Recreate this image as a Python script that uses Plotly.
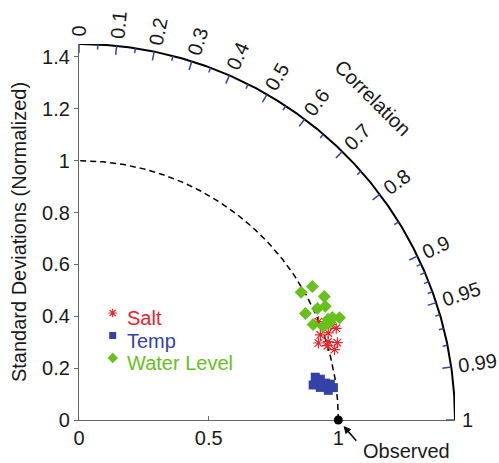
import numpy as np
import plotly.graph_objects as go

# Normalized standard deviation and correlation of each model run against observations
salt_std = [0.998, 0.987, 1.018, 1.007, 1.053, 1.040, 1.022, 0.970, 1.000, 1.037]
salt_corr = [0.925, 0.943, 0.944, 0.954, 0.942, 0.958, 0.964, 0.952, 0.958, 0.935]

temp_std = [0.926, 0.913, 0.944, 0.961, 0.979, 0.968, 0.939, 0.989]
temp_corr = [0.984, 0.989, 0.986, 0.989, 0.990, 0.993, 0.991, 0.992]

wl_std = [0.988, 1.037, 1.059, 1.046, 0.965, 1.015, 0.975, 1.036, 1.039, 1.079, 1.008, 1.054]
wl_corr = [0.867, 0.868, 0.893, 0.908, 0.905, 0.906, 0.926, 0.927, 0.932, 0.931, 0.934, 0.927]

series_names = ["Salt", "Temp", "Water Level"]
series_colors = ["#e3262b", "#3442a8", "#66c11c"]
series_symbols = ["asterisk-open", "square", "diamond"]
series_sizes = [9, 9, 10]
legend_sizes = [7, 7, 8]

std_ticks = [0, 0.2, 0.4, 0.6, 0.8, 1.0, 1.2, 1.4]
std_ticktext = ["0", "0.2", "0.4", "0.6", "0.8", "1", "1.2", "1.4"]
ref_ticks = [0, 0.5, 1.0]
ref_ticktext = ["0", "0.5", "1"]

corr_major = [0, 0.1, 0.2, 0.3, 0.4, 0.5, 0.6, 0.7, 0.8, 0.9, 0.95, 0.99, 1.0]
corr_major_text = ["0", "0.1", "0.2", "0.3", "0.4", "0.5", "0.6", "0.7", "0.8",
                   "0.9", "0.95", "0.99", "1"]
corr_minor = [0.05, 0.15, 0.25, 0.35, 0.45, 0.55, 0.65, 0.75, 0.85,
              0.91, 0.92, 0.93, 0.94, 0.96, 0.97, 0.98]

RMAX = 1.45          # outer radius of the diagram
OBS_STD = 1.0        # reference (observed) standard deviation

W, H = 499, 463
ML, MR, MT, MB = 79, 44, 44, 43
PX = (W - ML - MR) / RMAX   # pixels per data unit

FONT = "Liberation Sans, Arial, Helvetica, sans-serif"
TXT = "#1a1a1a"
TICK_BLUE = "#3344aa"

# legend block placement (pixels from the top-left of the figure)
LEG_SYMBOL_X = 112.7
LEG_TEXT_X = 125
LEG_ROW_Y = [318, 340.5, 363]
LEG_SYMBOL_LIFT = 5


def to_xy(std, corr):
    std = np.asarray(std, float)
    corr = np.asarray(corr, float)
    th = np.arccos(corr)
    return std * np.cos(th), std * np.sin(th)


def paper(v):
    # data units -> paper fraction (plot area is square, both axes span [0, RMAX])
    return v / RMAX


def px_x(p):
    return (p - ML) / PX


def px_y(p):
    return (H - MB - p) / PX


fig = go.Figure()

# outer arc
th = np.linspace(0, np.pi / 2, 300)
fig.add_trace(go.Scatter(x=RMAX * np.cos(th), y=RMAX * np.sin(th), mode="lines",
                         line=dict(color="black", width=2), hoverinfo="skip",
                         showlegend=False, cliponaxis=False))

# reference std arc (dashed)
fig.add_trace(go.Scatter(x=OBS_STD * np.cos(th), y=OBS_STD * np.sin(th), mode="lines",
                         line=dict(color="black", width=1.5, dash="6px,4px"),
                         hoverinfo="skip", showlegend=False))


# correlation ticks on the outer arc, pointing inward
def tick_segments(values, length_px):
    xs, ys = [], []
    for c in values:
        a = np.arccos(c)
        r0, r1 = RMAX, RMAX - length_px / PX
        xs += [r0 * np.cos(a), r1 * np.cos(a), None]
        ys += [r0 * np.sin(a), r1 * np.sin(a), None]
    return xs, ys


mx, my = tick_segments(corr_major, 9)
nx, ny = tick_segments(corr_minor, 5)
fig.add_trace(go.Scatter(x=mx + nx, y=my + ny, mode="lines",
                         line=dict(color=TICK_BLUE, width=1.5), hoverinfo="skip",
                         showlegend=False, cliponaxis=False))


def marker_style(i, size):
    return dict(symbol=series_symbols[i], size=size, color=series_colors[i],
                line=dict(color=series_colors[i], width=1.2 if i == 0 else 0))


# model points
sx, sy = to_xy(salt_std, salt_corr)
tx, ty = to_xy(temp_std, temp_corr)
wx, wy = to_xy(wl_std, wl_corr)
fig.add_trace(go.Scatter(x=tx, y=ty, mode="markers", name=series_names[1],
                         marker=marker_style(1, series_sizes[1]), showlegend=False))
fig.add_trace(go.Scatter(x=sx, y=sy, mode="markers", name=series_names[0],
                         marker=marker_style(0, series_sizes[0]), showlegend=False))
fig.add_trace(go.Scatter(x=wx, y=wy, mode="markers", name=series_names[2],
                         marker=marker_style(2, series_sizes[2]), showlegend=False))

# observed reference point
fig.add_trace(go.Scatter(x=[OBS_STD], y=[0], mode="markers",
                         marker=dict(size=9, color="black"), hoverinfo="skip",
                         showlegend=False, cliponaxis=False))

# legend key symbols
for i, ypx in enumerate(LEG_ROW_Y):
    fig.add_trace(go.Scatter(x=[px_x(LEG_SYMBOL_X)], y=[px_y(ypx - LEG_SYMBOL_LIFT)],
                             mode="markers", marker=marker_style(i, legend_sizes[i]),
                             hoverinfo="skip", showlegend=False))

annotations = []


# correlation tick labels, rotated along the radius
def text_width(s, size):
    return sum(0.278 if ch == "." else 0.556 for ch in s) * size


for c, lab in zip(corr_major, corr_major_text):
    a = np.arccos(c)
    r = RMAX + (7 + text_width(lab, 20) / 2) / PX
    annotations.append(dict(x=paper(r * np.cos(a)), y=paper(r * np.sin(a)),
                            xref="paper", yref="paper",
                            text=lab, showarrow=False, textangle=-np.degrees(a),
                            xanchor="center", yanchor="middle",
                            font=dict(size=20, color=TXT, family=FONT)))

annotations.append(dict(x=paper(1.134), y=paper(1.242), xref="paper", yref="paper",
                        text="Correlation", showarrow=False, textangle=45,
                        xanchor="center", yanchor="middle",
                        font=dict(size=20, color=TXT, family=FONT)))

# observed marker label with arrow
annotations.append(dict(x=paper(OBS_STD), y=0, xref="paper", yref="paper", text=" ",
                        font=dict(size=2), borderpad=0,
                        showarrow=True, ax=19, ay=22, arrowhead=2, arrowsize=1,
                        arrowwidth=1.5, arrowcolor="black", standoff=8))
annotations.append(dict(x=paper(OBS_STD + 68 / PX), y=paper(-31 / PX),
                        xref="paper", yref="paper",
                        xanchor="center", yanchor="middle",
                        text="Observed", showarrow=False,
                        font=dict(size=20, color=TXT, family=FONT)))

# legend labels
for name, col, ypx in zip(series_names, series_colors, LEG_ROW_Y):
    annotations.append(dict(x=paper(px_x(LEG_TEXT_X)), y=paper(px_y(ypx)),
                            xref="paper", yref="paper",
                            text=name, showarrow=False, xanchor="left", yanchor="middle",
                            font=dict(size=20, color=col, family=FONT)))

fig.update_layout(
    width=W, height=H,
    margin=dict(l=ML, r=MR, t=MT, b=MB),
    paper_bgcolor="white", plot_bgcolor="white",
    font=dict(family=FONT, size=20, color=TXT),
    annotations=annotations,
    showlegend=False,
)
fig.update_xaxes(range=[0, RMAX], showgrid=False, zeroline=False,
                 showline=True, linecolor="#666666", linewidth=1.2,
                 ticks="inside", ticklen=4, tickcolor="#666666",
                 tickvals=ref_ticks, ticktext=ref_ticktext,
                 tickfont=dict(size=20, color=TXT), layer="below traces")
fig.update_yaxes(range=[0, RMAX], showgrid=False, zeroline=False,
                 showline=True, linecolor="#666666", linewidth=1.2,
                 ticks="outside", ticklen=4, tickcolor="#666666",
                 tickvals=std_ticks, ticktext=std_ticktext,
                 tickfont=dict(size=20, color=TXT), layer="below traces",
                 title=dict(text="Standard Deviations (Normalized)",
                            font=dict(size=20, color=TXT), standoff=10))

fig.write_html("out.html")
